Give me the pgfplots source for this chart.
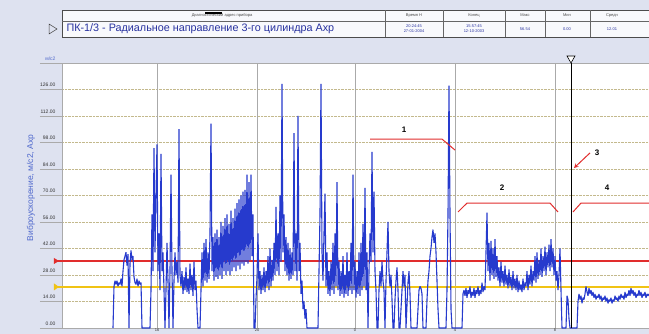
\documentclass[border=0pt]{standalone}
\usepackage{fontspec}
\setmainfont{Liberation Sans}
\usepackage{pgfplots}
\pgfplotsset{compat=1.18}
\definecolor{sig}{RGB}{38,58,205}
\definecolor{bg}{RGB}{222,226,240}
\definecolor{alarm}{RGB}{225,45,45}
\definecolor{warn}{RGB}{240,195,20}
\definecolor{gridh}{RGB}{195,185,140}
\definecolor{gridv}{RGB}{170,170,170}
\definecolor{labblue}{RGB}{80,105,205}
\definecolor{ttlblue}{RGB}{40,50,160}
\begin{document}
\begin{tikzpicture}[x=1pt,y=1pt]
\clip (0,0) rectangle (649,334);
\fill[bg] (0,0) rectangle (649,334);
% header table
\fill[white!80!bg] (62,297) rectangle (660,324);
\draw[black!70,line width=0.6pt] (62,297) rectangle (660,324);
\draw[black!60,line width=0.4pt] (62,313) -- (660,313);
\foreach \xx in {385,443,505,545,590} \draw[black!60,line width=0.4pt] (\xx,297) -- (\xx,324);
\draw[black!75,line width=0.5pt] (49,310) -- (57,305) -- (49,300) -- cycle;
\node[anchor=west,text=ttlblue,font=\fontsize{10.8}{12}\selectfont] at (63,305) {ПК-1/3 - Радиальное направление 3-го цилиндра Axp};
\begin{scope}[font=\fontsize{4}{5}\selectfont]
\node[text=black!70] at (222,318.5) {Диагностический адрес прибора};
\fill[black] (205,320) rectangle (222,322);
\node[text=black!70] at (414,318.5) {Время Н};
\node[text=black!70] at (474,318.5) {Конец};
\node[text=black!70] at (525,318.5) {Макс};
\node[text=black!70] at (567,318.5) {Мин};
\node[text=black!70] at (612,318.5) {Средн};
\node[text=ttlblue,align=center] at (414,305) {20:24:45\\27-01-2004};
\node[text=ttlblue,align=center] at (474,305) {15:57:45\\12-10-2003};
\node[text=ttlblue] at (525,305) {56.54};
\node[text=ttlblue] at (567,305) {0.00};
\node[text=ttlblue] at (612,305) {12.01};
\end{scope}
\node[rotate=90,text=labblue,font=\fontsize{8.5}{10}\selectfont] at (31,146) {Виброускорение, м/с2, Axp};
\begin{axis}[
  at={(62pt,6pt)}, anchor=south west,
  scale only axis, width=600pt, height=265pt,
  xmin=62, xmax=662, ymin=0, ymax=140,
  clip=false,
  axis background/.style={fill=white},
  axis line style={gridv},
  xtick={157,257,355,455,555},
  xticklabels={16,20,0,4,8},
  ytick={0,14,28,42,56,70,84,98,112,126,140},
  yticklabels={0.00,14.00,28.00,42.00,56.00,70.00,84.00,98.00,112.00,126.00,\textcolor{labblue}{м/с2}},
  tick label style={font=\fontsize{5}{6}\selectfont,text=black!80},
  yticklabel style={anchor=south east,xshift=-3pt,yshift=-1pt},
  xticklabel style={font=\fontsize{4}{4.5}\selectfont,anchor=north,inner sep=0.4pt,yshift=0pt},
  tick style={draw=none},
  ymajorgrids, major grid style={gridh,densely dotted,line width=0.6pt},
]
% vertical time grid
\foreach \xx in {157,257,355,455,555} {
  \edef\tmp{\noexpand\draw[gridv,line width=0.5pt] (axis cs:\xx,0) -- (axis cs:\xx,140);}\tmp
}
% tick underlines left of the frame
\foreach \yy in {0,14,28,42,56,70,84,98,112,126,140} {
  \edef\tmp{\noexpand\draw[gridv,line width=0.5pt] ([xshift=-22pt]axis cs:62,\yy) -- (axis cs:62,\yy);}\tmp
}
% alarm and warning levels
\addplot[warn,line width=2.4pt] coordinates {(56,21.7) (662,21.7)};
\addplot[alarm,line width=1.2pt] coordinates {(56,35.4) (662,35.4)};
\fill[alarm] ([xshift=-2pt,yshift=3pt]axis cs:56,35.4) -- ([xshift=3pt]axis cs:56,35.4) -- ([xshift=-2pt,yshift=-3pt]axis cs:56,35.4) -- cycle;
\fill[warn] ([xshift=-2pt,yshift=3.5pt]axis cs:56,21.7) -- ([xshift=3pt]axis cs:56,21.7) -- ([xshift=-2pt,yshift=-3.5pt]axis cs:56,21.7) -- cycle;
% vibration signal
\addplot[sig,line width=1.1pt,line join=bevel] coordinates {
(113,0) (114,22) (115,25) (116,23) (117,25) (118,22) (119,24) (120,23) (121,26) (122,22) (123,30) (124,36) (125,38) (126,40) (127,33) (128,39) (129,0) (130,34) (131,41) (132,36) (133,38) (134,27) (135,24) (136,23) (137,26) (138,22) (139,25) (140,23) (141,24) (142,0) (150,0)
(151,20) (152,60) (153,30) (154,95) (155,40) (156,70) (157,97) (158,30) (159,50) (160,20) (161,92) (162,30) (163,40) (164,20) (165,0) (166,20) (167,45) (168,25) (169,0) (170,30) (171,81) (172,30) (173,0) (174,25) (175,40) (176,28) (177,35) (178,24) (179,105) (180,28)
(181,22) (182,30) (183,18) (184,27) (185,20) (186,32) (187,19) (188,26) (189,18) (190,34) (191,20) (192,28) (193,17) (194,35) (195,20) (196,25) (197,10) (198,0) (200,0)
(201,20) (202,40) (203,22) (204,45) (205,25) (206,47) (207,24) (208,40) (209,26) (210,50) (211,108) (212,30) (213,48) (214,25) (215,50) (216,27) (217,52) (218,26) (219,48) (220,28) (221,56) (222,26) (223,54) (224,30) (225,58) (226,28) (227,60) (228,30) (229,55) (230,28) (231,62) (232,30) (233,58) (234,32) (235,63) (236,30) (237,66) (238,33) (239,68) (240,31) (241,70) (242,34) (243,72) (244,33) (245,73) (246,35) (247,81) (248,34) (249,77) (250,36) (251,81) (252,38) (253,60) (254,0) (255,0)
(256,15) (257,27) (258,50) (259,20) (260,30) (261,18) (262,28) (263,20) (264,32) (265,19) (266,30) (267,22) (268,38) (269,20) (270,42) (271,22) (272,36) (273,25) (274,45) (275,28) (276,64) (277,30) (278,50) (279,28) (280,70) (281,35) (282,129) (283,40) (284,60) (285,30) (286,48) (287,28) (288,45) (289,25) (290,42) (291,26) (292,40) (293,28) (294,103) (295,30) (296,50) (297,25) (298,112) (299,30) (300,45) (301,18) (302,25) (303,10) (304,14) (305,5) (306,10) (307,0) (317,0)
(318,0) (319,30) (320,60) (321,129) (322,40) (323,25) (324,50) (325,71) (326,22) (327,40) (328,18) (329,30) (330,17) (331,35) (332,20) (333,45) (334,18) (335,50) (336,22) (337,77) (338,20) (339,35) (340,17) (341,30) (342,18) (343,38) (344,16) (345,28) (346,18) (347,40) (348,17) (349,30) (350,20) (351,45) (352,18) (353,81) (354,20) (355,35) (356,16) (357,30) (358,18) (359,40) (360,17) (361,45) (362,20) (363,55) (364,22) (365,74) (366,20) (367,40) (368,0) (369,30) (370,50) (371,35) (372,93) (373,40) (374,72) (375,30) (376,20) (377,0)
(378,0) (379,20) (380,30) (381,22) (382,35) (383,25) (384,20) (385,0) (386,25) (387,40) (388,56) (389,30) (390,22) (391,28) (392,15) (393,0) (394,0) (395,15) (396,25) (397,32) (398,20) (399,0) (400,0) (401,10) (402,20) (403,30) (404,22) (405,28) (406,0) (407,12) (408,24) (409,30) (410,18) (411,0) (417,0) (418,10) (419,20) (420,22) (421,21) (422,18) (423,0) (426,0) (427,15) (428,25) (429,30) (430,38) (431,42) (432,48) (433,52) (434,45) (435,50) (436,40) (437,25) (438,10) (439,0) (446,0) (447,20) (448,60) (449,128) (450,60) (451,10) (452,0) (461,0)
(462,0) (463,18) (464,20) (465,17) (466,21) (467,16) (468,20) (469,18) (470,22) (471,16) (472,19) (473,17) (474,21) (475,16) (476,20) (477,18) (478,22) (479,17) (480,20) (481,18) (482,24) (483,19) (484,22) (485,20) (486,40) (487,61) (488,30) (489,45) (490,25) (491,46) (492,28) (493,42) (494,26) (495,47) (496,27) (497,38) (498,25) (499,32) (500,22) (501,35) (502,24) (503,30) (504,22) (505,33) (506,23) (507,28) (508,21) (509,31) (510,22) (511,27) (512,20) (513,30) (514,21) (515,26) (516,20) (517,28) (518,19) (519,25) (520,20) (521,23) (522,19) (523,26) (524,20) (525,24) (526,22) (527,30) (528,20) (529,28) (530,23) (531,33) (532,22) (533,30) (534,25) (535,38) (536,24) (537,40) (538,26) (539,36) (540,28) (541,42) (542,27) (543,38) (544,30) (545,43) (546,28) (547,40) (548,32) (549,44) (550,30) (551,47) (552,32) (553,42) (554,28) (555,38) (556,25) (557,30) (558,20) (559,28) (560,42) (561,20) (562,0) (566,0) (567,17) (568,15) (569,5) (570,0) (576,0)
(577,0) (578,14) (579,18) (580,15) (581,17) (582,13) (583,16) (584,15) (585,18) (586,22) (587,19) (588,17) (589,21) (590,18) (591,20) (592,17) (593,19) (594,16) (595,18) (596,15) (597,17) (598,16) (599,18) (600,15) (601,17) (602,14) (603,16) (604,15) (605,17) (606,14) (607,16) (608,13) (609,15) (610,14) (611,16) (612,13) (613,15) (614,14) (615,17) (616,15) (617,16) (618,14) (619,17) (620,15) (621,18) (622,16) (623,17) (624,15) (625,19) (626,16) (627,18) (628,17) (629,20) (630,17) (631,21) (632,18) (633,20) (634,17) (635,19) (636,16) (637,18) (638,17) (639,20) (640,17) (641,19) (642,16) (643,18) (644,17) (645,19) (646,16) (647,18) (648,17) (649,18)
};
% cursor
\draw[black,line width=0.9pt] (axis cs:571,0) -- (axis cs:571,140);
\draw[black,line width=0.6pt,fill=white] ([xshift=-4pt,yshift=7pt]axis cs:571,140) -- ([xshift=4pt,yshift=7pt]axis cs:571,140) -- (axis cs:571,140) -- cycle;
% operating intervals
\draw[alarm,line width=1pt] (axis cs:370,99.8) -- (axis cs:442,99.8) -- (axis cs:455,94.0);
\draw[alarm,line width=1pt] (axis cs:458,61.3) -- (axis cs:467,66.0) -- (axis cs:550,66.0) -- (axis cs:558,61.3);
\draw[alarm,line width=1pt] (axis cs:573,61.3) -- (axis cs:581,66.0) -- (axis cs:662,66.0);
\draw[alarm,line width=1pt,-stealth] (axis cs:590,92.5) -- (axis cs:574,84.5);
\begin{scope}[font=\bfseries\fontsize{8}{9}\selectfont]
\node at (axis cs:404,104.5) {1};
\node at (axis cs:502,74) {2};
\node at (axis cs:597,92.5) {3};
\node at (axis cs:607,74) {4};
\end{scope}
\end{axis}
\end{tikzpicture}
\end{document}
